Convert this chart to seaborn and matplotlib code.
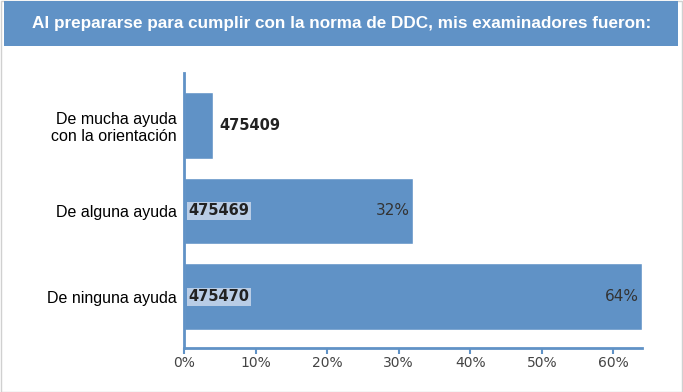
import matplotlib
matplotlib.use("Agg")
import matplotlib.pyplot as plt
from matplotlib.patches import Rectangle
import pandas as pd
import seaborn as sns

categories = ["De mucha ayuda\ncon la orientación", "De alguna ayuda", "De ninguna ayuda"]
percents = [4, 32, 64]
ids = ["475409", "475469", "475470"]
pct_labels = ["", "32%", "64%"]
title = "Al prepararse para cumplir con la norma de DDC, mis examinadores fueron:"

df = pd.DataFrame({"cat": categories, "pct": percents})

sns.set_theme(style="white")
plt.rcParams['font.family'] = ['DejaVu Sans']

blue = "#6092c6"
fig = plt.figure(figsize=(6.83, 3.92), dpi=100)
fig.patches.append(Rectangle((0.001, 0.001), 0.997, 0.997, transform=fig.transFigure,
                             fill=False, edgecolor="#d0d0d0", linewidth=1))
fig.patches.append(Rectangle((0.006, 0.883), 0.987, 0.114, transform=fig.transFigure,
                             facecolor=blue, edgecolor="none"))
fig.text(0.5, 0.94, title, ha="center", va="center", color="white",
         fontsize=12.3, fontweight="bold", family="Liberation Sans")

ax = fig.add_axes([0.2694, 0.1122, 0.6706, 0.7016])
sns.barplot(data=df, x="pct", y="cat", orient="h", color=blue, saturation=1,
            width=0.78, ax=ax)
ax.set_xlim(0, 64)
ax.set_ylim(2.6, -0.61)
ax.set_xticks([0, 10, 20, 30, 40, 50, 60])
ax.set_xticklabels([f"{t}%" for t in [0, 10, 20, 30, 40, 50, 60]], color="#444444", fontsize=10)
ax.set_yticks(range(len(categories)))
ax.set_yticklabels(categories, fontsize=11.5, family="Liberation Sans", color="black",
                   multialignment="right")
ax.set_xlabel("")
ax.set_ylabel("")
for s in ["top", "right"]:
    ax.spines[s].set_visible(False)
for s in ["left", "bottom"]:
    ax.spines[s].set_color(blue)
    ax.spines[s].set_linewidth(2)
ax.tick_params(axis="x", bottom=True, length=4, color=blue, width=1.5, pad=2)
ax.tick_params(axis="y", left=False, length=0, pad=5)

for i, (p, lab, pl) in enumerate(zip(percents, ids, pct_labels)):
    if p < 10:
        ax.text(p + 1, i, lab, va="center", ha="left", fontsize=10.5, fontweight="bold", color="#222222")
    else:
        ax.text(0.6, i, lab, va="center", ha="left", fontsize=10.5, fontweight="bold", color="#222222",
                bbox=dict(boxstyle="square,pad=0.1", facecolor="#b9cde6", edgecolor="none"))
    if pl:
        ax.text(p - 0.5, i, pl, va="center", ha="right", fontsize=11, color="#333333")

fig.savefig("out.png", dpi=100)
